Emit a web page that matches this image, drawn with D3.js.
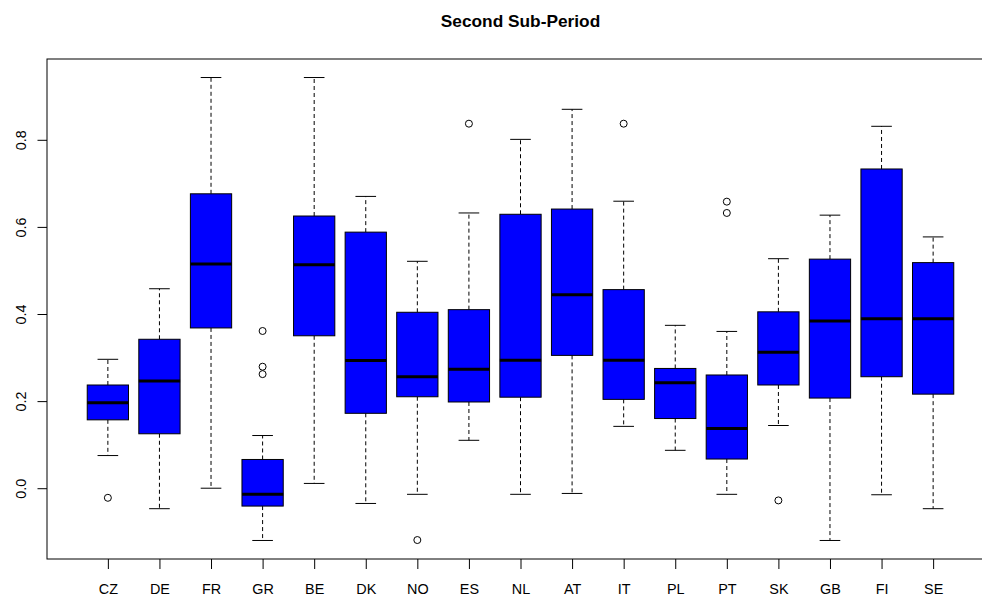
<!DOCTYPE html>
<html>
<head>
<meta charset="utf-8">
<script src="https://cdn.jsdelivr.net/npm/d3@7"></script>
<style>
  html, body { margin: 0; padding: 0; background: #fff; }
  svg { display: block; }
  text { font-family: "Liberation Sans", Arial, Helvetica, sans-serif; fill: #000; }
</style>
</head>
<body>
<svg id="chart" width="982" height="600"></svg>
<script>
// Country codes along the x axis
const categories = ["CZ","DE","FR","GR","BE","DK","NO","ES","NL","AT","IT","PL","PT","SK","GB","FI","SE"];

// Five-number summaries per country (lower whisker, Q1, median, Q3, upper whisker)
const whiskerLow  = [0.075, -0.047, 0.000, -0.120, 0.011, -0.035, -0.014, 0.110, -0.014, -0.012, 0.142, 0.087, -0.014, 0.144, -0.120, -0.015, -0.047];
const lowerQuart  = [0.157,  0.125, 0.368, -0.041, 0.350,  0.172,  0.210, 0.198,  0.209,  0.305, 0.204, 0.160,  0.067, 0.237,  0.207,  0.256,  0.216];
const medians     = [0.196,  0.246, 0.515, -0.014, 0.513,  0.293,  0.256, 0.273,  0.294,  0.444, 0.294, 0.242,  0.137, 0.312,  0.384,  0.389,  0.389];
const upperQuart  = [0.237,  0.342, 0.676,  0.066, 0.625,  0.588,  0.404, 0.410,  0.629,  0.641, 0.456, 0.275,  0.260, 0.405,  0.526,  0.733,  0.518];
const whiskerHigh = [0.296,  0.458, 0.943,  0.121, 0.943,  0.670,  0.521, 0.632,  0.801,  0.870, 0.659, 0.374,  0.360, 0.527,  0.627,  0.831,  0.577];

// Points beyond the whiskers
const outliers = [[-0.022], [], [], [0.361, 0.279, 0.262], [], [], [-0.119], [0.837], [], [], [0.837], [], [0.658, 0.632], [-0.028], [], [], []];

// Y axis ticks and their labels
const yTicks = [0.0, 0.2, 0.4, 0.6, 0.8];
const yTickLabels = ["0.0", "0.2", "0.4", "0.6", "0.8"];

const title = "Second Sub-Period";

const svg = d3.select("#chart");
const plot = { left: 47, right: 994, top: 59, bottom: 559 };
const axisFont = 14.4, titleFont = 17.3;

// Data range padded by 4% on each side
const allVals = whiskerLow.concat(whiskerHigh, outliers.flat());
const yMin = d3.min(allVals), yMax = d3.max(allVals);
const yPad = (yMax - yMin) * 0.04;
const y = d3.scaleLinear().domain([yMin - yPad, yMax + yPad]).range([plot.bottom, plot.top]);

const n = categories.length;
const xPad = n * 0.04;
const x = d3.scaleLinear().domain([0.5 - xPad, n + 0.5 + xPad]).range([plot.left, plot.right]);

const boxW = 0.8, stapleW = 0.4;

const g = svg.append("g");
const boxes = g.selectAll("g.box").data(categories).enter().append("g").attr("class", "box");

// whiskers (dashed)
boxes.append("line")
  .attr("x1", (d, i) => x(i + 1)).attr("x2", (d, i) => x(i + 1))
  .attr("y1", (d, i) => y(upperQuart[i])).attr("y2", (d, i) => y(whiskerHigh[i]))
  .attr("stroke", "#000").attr("stroke-width", 1).attr("stroke-dasharray", "4,3");
boxes.append("line")
  .attr("x1", (d, i) => x(i + 1)).attr("x2", (d, i) => x(i + 1))
  .attr("y1", (d, i) => y(lowerQuart[i])).attr("y2", (d, i) => y(whiskerLow[i]))
  .attr("stroke", "#000").attr("stroke-width", 1).attr("stroke-dasharray", "4,3");

// staples
boxes.append("line")
  .attr("x1", (d, i) => x(i + 1 - stapleW / 2)).attr("x2", (d, i) => x(i + 1 + stapleW / 2))
  .attr("y1", (d, i) => y(whiskerHigh[i])).attr("y2", (d, i) => y(whiskerHigh[i]))
  .attr("stroke", "#000").attr("stroke-width", 1);
boxes.append("line")
  .attr("x1", (d, i) => x(i + 1 - stapleW / 2)).attr("x2", (d, i) => x(i + 1 + stapleW / 2))
  .attr("y1", (d, i) => y(whiskerLow[i])).attr("y2", (d, i) => y(whiskerLow[i]))
  .attr("stroke", "#000").attr("stroke-width", 1);

// boxes
boxes.append("rect")
  .attr("x", (d, i) => x(i + 1 - boxW / 2))
  .attr("width", (d, i) => x(i + 1 + boxW / 2) - x(i + 1 - boxW / 2))
  .attr("y", (d, i) => y(upperQuart[i]))
  .attr("height", (d, i) => y(lowerQuart[i]) - y(upperQuart[i]))
  .attr("fill", "#0000ff").attr("stroke", "#000").attr("stroke-width", 1);

// medians
boxes.append("line")
  .attr("x1", (d, i) => x(i + 1 - boxW / 2)).attr("x2", (d, i) => x(i + 1 + boxW / 2))
  .attr("y1", (d, i) => y(medians[i])).attr("y2", (d, i) => y(medians[i]))
  .attr("stroke", "#000").attr("stroke-width", 3);

// outliers
boxes.each(function (d, i) {
  d3.select(this).selectAll("circle").data(outliers[i]).enter().append("circle")
    .attr("cx", x(i + 1)).attr("cy", v => y(v)).attr("r", 3.5)
    .attr("fill", "none").attr("stroke", "#000").attr("stroke-width", 1);
});

// frame around the plot region
g.append("rect")
  .attr("x", plot.left).attr("y", plot.top)
  .attr("width", plot.right - plot.left).attr("height", plot.bottom - plot.top)
  .attr("fill", "none").attr("stroke", "#000").attr("stroke-width", 1);

// y axis
const yAxis = d3.axisLeft(y).tickValues(yTicks).tickFormat((d, i) => yTickLabels[i]).tickSize(9.5).tickPadding(0);
const ya = svg.append("g").attr("transform", `translate(${plot.left},0)`).call(yAxis);
ya.select(".domain").remove();
ya.selectAll(".tick line").attr("stroke", "#000");
ya.selectAll(".tick text")
  .attr("x", 0).attr("dy", null)
  .attr("transform", "translate(-21.5,0) rotate(-90)")
  .attr("text-anchor", "middle")
  .attr("font-size", axisFont);

// x axis
const xAxis = d3.axisBottom(x).tickValues(d3.range(1, n + 1)).tickFormat(i => categories[i - 1]).tickSize(10).tickPadding(0);
const xa = svg.append("g").attr("transform", `translate(0,${plot.bottom})`).call(xAxis);
xa.select(".domain").remove();
xa.selectAll(".tick line").attr("stroke", "#000");
xa.selectAll(".tick text").attr("y", 34.5).attr("dy", null).attr("font-size", axisFont);

// title
svg.append("text")
  .attr("x", (plot.left + plot.right) / 2).attr("y", 27)
  .attr("text-anchor", "middle")
  .attr("font-size", titleFont).attr("font-weight", "bold")
  .text(title);
</script>
</body>
</html>
